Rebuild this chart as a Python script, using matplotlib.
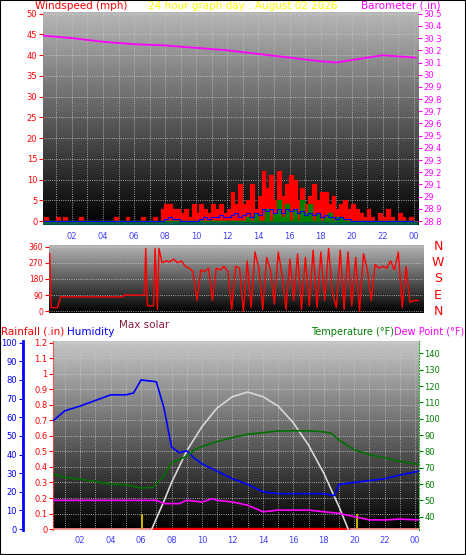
import numpy as np
import matplotlib
matplotlib.use("Agg")
import matplotlib.pyplot as plt
from matplotlib.patches import Rectangle

# ---------------- data ----------------
hour_ticks = [2, 4, 6, 8, 10, 12, 14, 16, 18, 20, 22, 24]
hour_labels = ["02", "04", "06", "08", "10", "12", "14", "16", "18", "20", "22", "00"]

gust = [1,0,0,1, 0,1,0,0, 0,1,0,0, 0,0,0,0, 0,0,1,0, 0,1,0,0, 0,1,0,0, 1,0,3,4,
        4,3,3,2, 3,1,4,2, 4,3,2,4, 3,4,2,3, 7,4,9,4, 5,9,3,6, 12,8,11,5, 12,6,9,11,
        10,5,8,4, 6,9,5,7, 7,4,6,3, 4,5,3,4, 3,2,1,3, 1,0,2,1, 3,1,0,2, 1,0,1,0]
avg_wind = [0,0,0,0, 0,0,0,0, 0,0,0,0, 0,0,0,0, 0,0,0,0, 0,0,0,0, 0,0,0,0, 0,0,0,0.5,
            1,0.5,0.5,0, 0,0,0,0, 0.5,1,0.5,1, 1,1.5,1,1, 1.5,2,1,1.5, 2,1,2,1.5, 3,2.5,3,2, 3,2,3,2.5,
            3,2,2.5,1.5, 2,1.5,2,1, 1.5,1,1,0.5, 1,0.5,0.5,0, 0,0,0,0, 0,0,0,0, 0,0,0,0, 0,0,0,0]
lull = [0]*52 + [1,0,2,0, 0,3,0,2, 5,1,4,0, 3,0,5,2, 4,0,2,0, 1,2,0,1, 1,0,0,0, 0,0,0,0] + [0]*12

baro_t = [0.2, 2, 4, 6, 8, 10, 12, 14, 16, 18, 19, 20, 21, 22, 23, 24.1]
baro_v = [30.32, 30.30, 30.27, 30.25, 30.24, 30.22, 30.20, 30.17, 30.14, 30.11, 30.10, 30.12, 30.14, 30.16, 30.15, 30.14]

dir_t = [0.5, 0.6, 1.0, 1.2, 5.2, 5.3, 6.6, 6.7, 6.8, 7.2, 7.3, 7.45, 7.55, 7.75,
         8, 8.25, 8.5, 8.75, 9, 9.25, 9.5, 9.75, 10, 10.25, 10.5, 10.75, 11, 11.25, 11.5, 11.75,
         12, 12.25, 12.5, 12.75, 13, 13.25, 13.5, 13.75, 14, 14.25, 14.5, 14.75, 15, 15.25, 15.5, 15.75,
         16, 16.25, 16.5, 16.75, 17, 17.25, 17.5, 17.75, 18, 18.25, 18.5, 18.75, 19, 19.25, 19.5, 19.75,
         20, 20.25, 20.5, 20.75, 21, 21.25, 21.5, 21.75, 22, 22.25, 22.5, 22.75, 23, 23.25, 23.5, 23.75, 24, 24.3]
dir_v = [320, 20, 20, 80, 80, 90, 90, 350, 30, 30, 350, 10, 350, 270,
         280, 275, 290, 270, 280, 250, 240, 220, 60, 230, 220, 240, 60, 240, 230, 250,
         220, 10, 250, 240, 0, 280, 20, 330, 240, 10, 300, 230, 40, 330, 200, 10,
         290, 60, 320, 10, 300, 30, 340, 20, 330, 60, 350, 100, 20, 340, 10, 330,
         30, 300, 0, 320, 230, 60, 260, 240, 250, 240, 280, 230, 330, 20, 250, 50, 60, 60]

temp_t = [0.2, 1, 2, 3, 4, 5, 6, 6.8, 7.5, 8, 9, 9.5, 10, 11, 12, 13, 14, 15, 16, 17, 18, 18.5, 19, 20, 21, 22, 23, 24.2]
temp_v = [66, 64, 63, 61.5, 60, 59.5, 57.5, 58, 65, 73, 77, 81, 83, 86, 88.5, 90.5, 91.5, 92.5, 92.6, 92.6, 92, 91, 87, 81, 78, 76, 74, 72]

dew_t = [0.2, 3, 6, 7, 7.5, 8.5, 9, 10, 10.7, 11, 12, 13, 13.5, 14, 15, 16, 17, 18, 19, 20, 21, 22, 23, 24.2]
dew_v = [50, 50, 50, 50, 48, 48, 50, 49, 51, 50, 49, 47, 45, 43, 44, 44, 44, 43, 42, 40, 38, 38, 38.5, 38]

hum_t = [0.2, 1, 2, 3, 4, 5, 5.5, 6, 7, 7.5, 8, 8.5, 9, 9.5, 10, 10.5, 11, 12, 13, 14, 15, 16, 17, 18, 18.7, 19, 20, 21, 22, 23, 24.2]
hum_v = [58, 63.5, 66, 69, 72, 72, 73, 80, 79, 65, 44, 41, 42, 38, 35, 33, 31, 27, 24, 20, 19, 19, 19, 19, 18, 24, 25, 26, 27, 29, 31]

solar_t = [6.7, 7.5, 8, 9, 10, 11, 12, 13, 14, 15, 16, 17, 18, 19, 19.6]
solar_v = [0, 15, 25, 42, 55, 65, 71, 73.5, 71, 66, 57, 45, 30, 12, 0]

rain_t = [0.3, 24.2]
rain_v = [0, 0]
sun_events = [6.05, 20.2]

# ---------------- figure ----------------
fig = plt.figure(figsize=(4.66, 5.55), dpi=100)
fig.patch.set_facecolor("white")
fig.add_artist(Rectangle((0, 0), 1, 1, transform=fig.transFigure, fill=False, ec="black", lw=1.5))

FS = 6
def grad_bg(ax, top=0.72):
    g = np.linspace(0, top, 256).reshape(-1, 1)
    ax.imshow(g, extent=[0, 1, 0, 1], transform=ax.transAxes, cmap="gray", vmin=0, vmax=1,
              aspect="auto", origin="lower", zorder=0)

def style(ax, xlim):
    ax.set_xlim(*xlim)
    ax.grid(True, axis="y", color="#d0d0d0", ls=":", lw=0.6, zorder=1)
    for s in ax.spines.values():
        s.set_visible(False)

# top panel
ax1 = fig.add_axes([0.092, 0.595, 0.805, 0.384])
grad_bg(ax1)
style(ax1, (0.13, 24.26))
t15 = np.arange(96) * 0.25 + 0.2
ax1.fill_between(t15, gust, step="post", color="#ff0000", lw=0.8, zorder=3)
ax1.step(t15, gust, where="post", color="#ff0000", lw=0.8, zorder=3)
ax1.fill_between(t15, lull, step="post", color="#008000", zorder=4)
ax1.step(t15, avg_wind, where="post", color="#0000ff", lw=0.8, zorder=5)
ax1.axhline(-0.5, color="#006050", lw=2, zorder=5)
ax1.set_ylim(-0.9, 50.5)
ax1.set_yticks(range(0, 51, 5))
ax1.tick_params(axis="y", colors="#ff0000", labelsize=FS, length=3, pad=1)
ax1.set_xticks(hour_ticks)
ax1.set_xticklabels(hour_labels, color="#4040ff", fontsize=FS)
ax1.tick_params(axis="x", length=0, pad=5)
for x in range(1, 25):
    ax1.axvline(x, color="#c8c8c8", ls=":", lw=0.6, zorder=1)
ax1b = ax1.twinx()
for s in ax1b.spines.values():
    s.set_visible(False)
ax1b.plot(baro_t, baro_v, color="#ff00ff", lw=1.3, zorder=6)
ax1b.set_ylim(28.8 - 0.9 * 1.7 / 50, 30.5 + 0.5 * 1.7 / 50)
bt = np.round(np.arange(28.8, 30.51, 0.1), 1)
ax1b.set_yticks(bt)
ax1b.set_yticklabels([f"{v:g}" for v in bt])
ax1b.tick_params(axis="y", colors="#ff00ff", labelsize=FS, length=3, pad=1)

fig.text(0.075, 0.999, "Windspeed (mph)", color="#ff0000", fontsize=7.5, va="top", ha="left")
fig.text(0.52, 0.999, "24 hour graph day : August 02 2026", color="#ffff00", fontsize=7.5, va="top", ha="center")
fig.text(0.945, 0.999, "Barometer (.in)", color="#ff00ff", fontsize=7.5, va="top", ha="right")

# middle panel
ax2 = fig.add_axes([0.105, 0.436, 0.803, 0.123])
grad_bg(ax2)
style(ax2, (0.45, 24.6))
ax2.set_xticks([])
ax2.plot(dir_t, dir_v, color="#ff0000", lw=1.0, zorder=3)
ax2.set_ylim(-10, 370)
ax2.set_yticks([0, 90, 180, 270, 360])
ax2.set_yticklabels(["0", "90", "180", "270", "360"])
ax2.tick_params(axis="y", colors="#ff0000", labelsize=5.5, length=3, pad=1)
for lab, y in zip(["N", "W", "S", "E", "N"], [360, 270, 180, 90, 0]):
    ax2.text(1.04, (y + 10) / 380, lab, transform=ax2.transAxes, color="#ff0000",
             fontsize=9, va="center", ha="center")
fig.text(0.255, 0.423, "Max solar", color="#8b1a3a", fontsize=7.5, va="top")

# bottom panel
ax3 = fig.add_axes([0.114, 0.045, 0.785, 0.341])
grad_bg(ax3, top=0.78)
style(ax3, (0.22, 24.25))
ax3.set_ylim(-0.006, 1.212)
rt = np.round(np.arange(0, 1.21, 0.1), 1)
ax3.set_yticks(rt)
ax3.set_yticklabels([f"{v:g}" for v in rt])
ax3.tick_params(axis="y", colors="#ff0000", labelsize=FS, length=3, pad=1)
ax3.spines["left"].set_visible(True)
ax3.spines["left"].set_color("#ff4040")
ax3.spines["left"].set_linestyle(":")
ax3.set_xticks(hour_ticks)
ax3.set_xticklabels(hour_labels, color="#4040ff", fontsize=FS)
ax3.tick_params(axis="x", length=0, pad=4)
for x in range(1, 25):
    ax3.axvline(x, color="#c8c8c8", ls=":", lw=0.6, zorder=1)
ax3.plot(rain_t, rain_v, color="#ff9090", lw=2, zorder=3)
ax3.plot([6.7, 19.6], [0, 0], color="#ff0000", lw=2.5, zorder=3)
ax3.vlines(sun_events, 0, 0.1, color="#c8b400", lw=1.5, zorder=4)

axh = ax3.twinx()
for k in ["right", "top", "bottom"]:
    axh.spines[k].set_visible(False)
axh.spines["left"].set_visible(True)
axh.spines["left"].set_position(("outward", 22))
axh.spines["left"].set_color("#0000ff")
axh.spines["left"].set_linewidth(2)
axh.yaxis.set_ticks_position("left")
axh.set_ylim(-0.5, 101)
axh.set_yticks(range(0, 101, 10))
axh.tick_params(axis="y", colors="#0000ff", labelsize=FS, length=3, pad=1)
axh.plot(hum_t, hum_v, color="#0000ff", lw=1.2, zorder=5)
axh.plot(solar_t, solar_v, color="#d8d8d8", lw=1.2, zorder=4)

axt = ax3.twinx()
for s in axt.spines.values():
    s.set_visible(False)
axt.spines["right"].set_visible(True)
axt.spines["right"].set_color("#20a020")
axt.spines["right"].set_linestyle(":")
axt.set_ylim(31.8, 147.8)
axt.set_yticks(range(40, 141, 10))
axt.tick_params(axis="y", colors="#008000", labelsize=FS, length=3, pad=1)
axt.plot(temp_t, temp_v, color="#007000", lw=1.2, zorder=5)
axt.plot(dew_t, dew_v, color="#ff00ff", lw=1.2, zorder=5)

fig.text(0.003, 0.402, "Rainfall (.in)", color="#ff0000", fontsize=7.5, va="center")
fig.text(0.143, 0.402, "Humidity", color="#0000ff", fontsize=7.5, va="center")
fig.text(0.845, 0.402, "Temperature (°F)", color="#008000", fontsize=7, va="center", ha="right")
fig.text(0.997, 0.402, "Dew Point (°F)", color="#ff00ff", fontsize=7, va="center", ha="right")

fig.savefig("out.png", dpi=100, facecolor="white")
